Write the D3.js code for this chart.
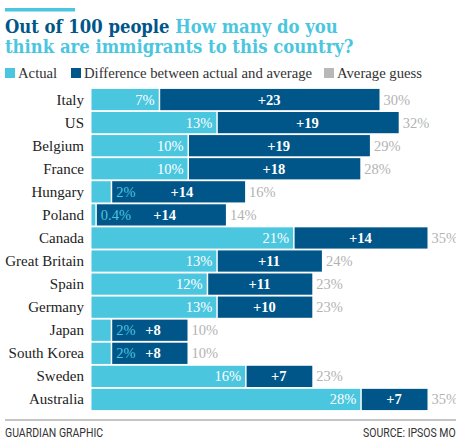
<!DOCTYPE html>
<html><head><meta charset="utf-8">
<script src="https://cdn.jsdelivr.net/npm/d3@7"></script>
<style>
html,body{margin:0;padding:0;background:#fff;}
svg{display:block;}
</style></head>
<body>
<svg id="chart" width="456" height="439"></svg>
<script>
const countries = ["Italy","US","Belgium","France","Hungary","Poland","Canada","Great Britain","Spain","Germany","Japan","South Korea","Sweden","Australia"];
const actual = [7,13,10,10,2,0.4,21,13,12,13,2,2,16,28];
const difference = [23,19,19,18,14,14,14,11,11,10,8,8,7,7];
const averageGuess = [30,32,29,28,16,14,35,24,23,23,10,10,23,35];
const actualLabels = ["7%","13%","10%","10%","2%","0.4%","21%","13%","12%","13%","2%","2%","16%","28%"];
const diffLabels = ["+23","+19","+19","+18","+14","+14","+14","+11","+11","+10","+8","+8","+7","+7"];
const guessLabels = ["30%","32%","29%","28%","16%","14%","35%","24%","23%","23%","10%","10%","23%","35%"];
const legendItems = ["Actual","Difference between actual and average","Average guess"];

const LIGHT = "#4bc6df", DARK = "#005689", GREY = "#b3b3b3";
const serif = "'Liberation Serif', 'Times New Roman', serif";
const svg = d3.select("#chart");

const x = d3.scaleLinear().domain([0, 35]).range([91.5, 427.5]);
const y = d3.scaleBand().domain(countries).range([88, 411]).paddingInner(0.08).paddingOuter(0.04);

// top rule
svg.append("rect").attr("x",5).attr("y",8).attr("width",70).attr("height",3.5).attr("fill",LIGHT);

// title
const titleFont = "'DejaVu Serif Condensed','DejaVu Serif',serif";
const t1 = svg.append("text").attr("x",5).attr("y",33)
  .style("font-family",titleFont).style("font-weight","bold").style("font-size","18.3px");
t1.append("tspan").attr("fill",DARK).text("Out of 100 people ");
t1.append("tspan").attr("fill",LIGHT).text("How many do you");
svg.append("text").attr("x",5).attr("y",53)
  .style("font-family",titleFont).style("font-weight","bold").style("font-size","18.3px")
  .attr("fill",LIGHT).text("think are immigrants to this country?");

// legend
const legendColors = [LIGHT, DARK, "#b8b8b8"];
const legendX = [5, 71, 324];
legendItems.forEach((d,i)=>{
  svg.append("rect").attr("x",legendX[i]).attr("y",68).attr("width",10).attr("height",10).attr("fill",legendColors[i]);
  svg.append("text").attr("x",legendX[i]+13).attr("y",78).attr("fill","#333")
    .style("font-family",serif).style("font-size","14.7px").text(d);
});

const rows = svg.append("g").selectAll("g").data(countries).join("g")
  .attr("transform", d=>`translate(0,${y(d)})`);
const bh = y.bandwidth();

rows.append("rect").attr("x",x(0)).attr("y",0)
  .attr("width",(d,i)=>x(actual[i])-x(0)).attr("height",bh).attr("fill",LIGHT);
rows.append("rect").attr("x",(d,i)=>x(actual[i])+1.5).attr("y",0)
  .attr("width",(d,i)=>x(averageGuess[i])-x(actual[i])-1.5).attr("height",bh).attr("fill",DARK);

// country labels
rows.append("text").attr("x",84).attr("y",bh/2+5).attr("text-anchor","end")
  .attr("fill","#222").style("font-family",serif).style("font-size","15px").text(d=>d);

// actual labels
rows.append("text")
  .attr("x",(d,i)=> actual[i] >= 5 ? x(actual[i]) - 4 : x(actual[i]) + 5.5)
  .attr("y",bh/2+5)
  .attr("text-anchor",(d,i)=> actual[i] >= 5 ? "end" : "start")
  .attr("fill",(d,i)=> actual[i] >= 5 ? "#fff" : LIGHT)
  .style("font-family",serif).style("font-size","14.5px")
  .text((d,i)=>actualLabels[i]);

// difference labels
rows.append("text")
  .attr("x",(d,i)=>{
    const mid = (x(actual[i]) + x(averageGuess[i]))/2;
    return actual[i] >= 5 ? mid : mid + 4;
  })
  .attr("y",bh/2+5).attr("text-anchor","middle").attr("fill","#fff")
  .style("font-family",serif).style("font-weight","bold").style("font-size","14.5px")
  .text((d,i)=>diffLabels[i]);

// guess labels
rows.append("text").attr("x",(d,i)=>x(averageGuess[i])+4).attr("y",bh/2+5)
  .attr("fill",GREY).style("font-family",serif).style("font-size","14.5px")
  .text((d,i)=>guessLabels[i]);

// footer
const footFont = "'Roboto','Open Sans',sans-serif";
svg.append("line").attr("x1",5).attr("x2",456).attr("y1",420).attr("y2",420)
  .attr("stroke","#8a8a8a").attr("stroke-width",1);
const foot = svg.append("g").attr("transform","translate(0,437) scale(0.84,1)");
foot.append("text").attr("x",5/0.84).attr("y",0).attr("fill","#333")
  .style("font-family",footFont).style("font-size","12.5px").text("GUARDIAN GRAPHIC");
foot.append("text").attr("x",363/0.84).attr("y",0).attr("fill","#333")
  .style("font-family",footFont).style("font-size","12.5px").text("SOURCE: IPSOS MORI");
</script>
</body></html>
